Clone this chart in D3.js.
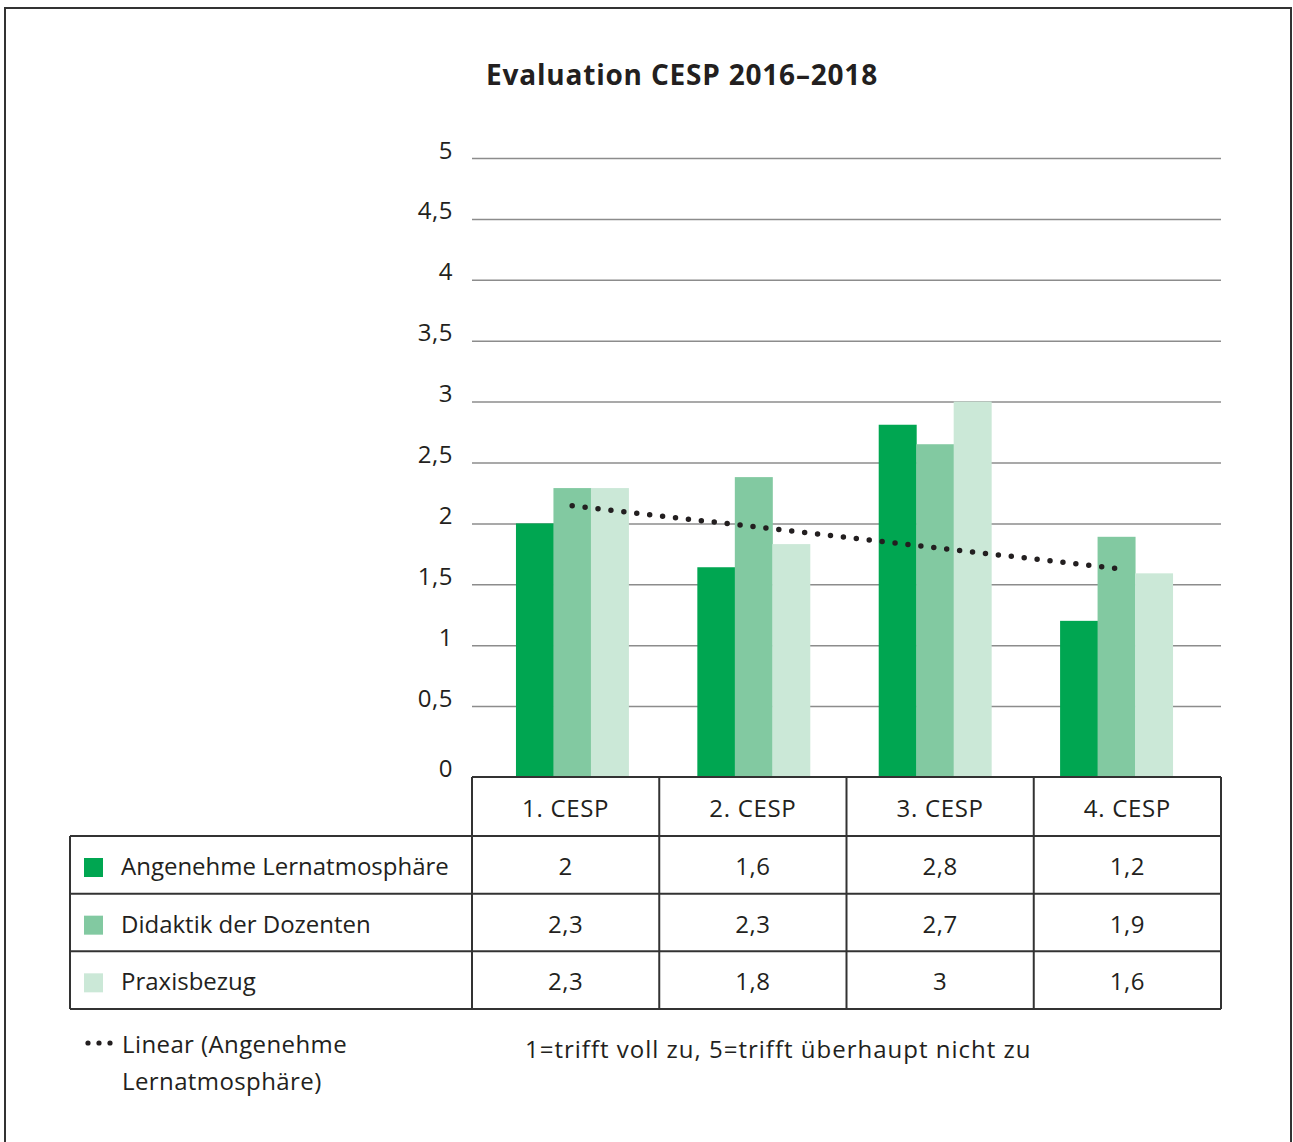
<!DOCTYPE html>
<html>
<head>
<meta charset="utf-8">
<script src="https://cdn.jsdelivr.net/npm/d3@7"></script>
<style>
  body { margin: 0; background: #fff; }
  text { font-family: "Open Sans", sans-serif; fill: #231f20; }
</style>
</head>
<body>
<div class="fig"></div>
<script>
// data
var categories = ["1. CESP", "2. CESP", "3. CESP", "4. CESP"];
var seriesNames = ["Angenehme Lernatmosphäre", "Didaktik der Dozenten", "Praxisbezug"];
var lernatmosphaere = [2.0, 1.64, 2.81, 1.2];
var didaktik = [2.29, 2.38, 2.65, 1.89];
var praxisbezug = [2.29, 1.83, 3.0, 1.59];
var lernLabels = ["2", "1,6", "2,8", "1,2"];
var didaktikLabels = ["2,3", "2,3", "2,7", "1,9"];
var praxisLabels = ["2,3", "1,8", "3", "1,6"];
var yTicks = [0, 0.5, 1, 1.5, 2, 2.5, 3, 3.5, 4, 4.5, 5];
var trendValues = [2.145, 1.627];   // linear trend, first and last CESP
var colors = ["#00a651", "#82c9a1", "#cbe8d7"];

var series = [lernatmosphaere, didaktik, praxisbezug];
var labels = [lernLabels, didaktikLabels, praxisLabels];

var W = 1293, H = 1142;
var plotL = 472, plotR = 1221, tableTop = 777;

const svg = d3.select(".fig")
  .append("svg")
  .attr("width", W)
  .attr("height", H);

// frame
svg.append("rect")
  .attr("x", 5).attr("y", 8)
  .attr("width", 1286).attr("height", 1150)
  .attr("fill", "none")
  .attr("stroke", "#333")
  .attr("stroke-width", 2);

// title
svg.append("text")
  .attr("x", 682).attr("y", 85)
  .attr("text-anchor", "middle")
  .style("font-size", "28px")
  .style("font-weight", "bold")
  .style("letter-spacing", "0.8px")
  .text("Evaluation CESP 2016–2018");

var y = d3.scaleLinear().domain([0, 5]).range([767, 158]);

// y axis + gridlines
var yAxis = svg.append("g")
  .attr("transform", "translate(" + plotL + ",0)")
  .call(d3.axisLeft(y)
    .tickValues(yTicks)
    .tickSize(-(plotR - plotL))
    .tickPadding(19)
    .tickFormat(function(d) { return String(d).replace(".", ","); }));
yAxis.select(".domain").remove();
yAxis.selectAll(".tick line")
  .attr("stroke", "#8c8c8c")
  .attr("stroke-width", 1.5);
yAxis.selectAll(".tick text")
  .attr("dy", "0")
  .style("font-size", "24px")
  .style("font-family", "'Open Sans', sans-serif")
  .style("letter-spacing", "0.5px")
  .attr("fill", "#231f20");
yAxis.selectAll(".tick").filter(function(d) { return d === 0; })
  .attr("transform", "translate(0," + tableTop + ")")
  .select("line").remove();

// bars
var xg = d3.scaleBand().domain(categories).range([481.5, 1207])
  .paddingInner(0.38).paddingOuter(0.19);
var x1 = d3.scaleBand().domain(d3.range(series.length)).range([0, xg.bandwidth()]);

var groups = svg.selectAll("g.grp")
  .data(categories)
  .enter().append("g")
  .attr("class", "grp")
  .attr("transform", function(c) { return "translate(" + xg(c) + ",0)"; });

groups.selectAll("rect")
  .data(function(c, i) { return series.map(function(s, k) { return { k: k, v: s[i] }; }); })
  .enter().append("rect")
  .attr("x", function(d) { return x1(d.k); })
  .attr("y", function(d) { return y(d.v); })
  .attr("width", x1.bandwidth() + 0.5)
  .attr("height", function(d) { return tableTop - y(d.v); })
  .attr("fill", function(d) { return colors[d.k]; });

// trend line
var trendPts = [
  [xg(categories[0]) + xg.bandwidth() / 2, y(trendValues[0])],
  [xg(categories[categories.length - 1]) + xg.bandwidth() / 2 + 3, y(trendValues[1])]
];
svg.append("path")
  .attr("d", d3.line()(trendPts))
  .attr("stroke", "#231f20")
  .attr("stroke-width", 5.5)
  .attr("stroke-linecap", "round")
  .attr("stroke-dasharray", "0 13")
  .attr("fill", "none");

// data table
var xc = d3.scaleBand().domain(categories).range([plotL, plotR]);
var rowY = d3.scaleBand().domain(seriesNames).range([836, 1009]);
var tableLeft = 70;
var lineColor = "#333";
var tbl = svg.append("g").attr("stroke", lineColor).attr("stroke-width", 2);

tbl.append("line").attr("x1", plotL).attr("x2", plotR).attr("y1", tableTop).attr("y2", tableTop);
seriesNames.concat(["end"]).forEach(function(s, i) {
  var yy = i < seriesNames.length ? rowY(s) : rowY.range()[1];
  tbl.append("line").attr("x1", tableLeft).attr("x2", plotR).attr("y1", yy).attr("y2", yy);
});
tbl.append("line").attr("x1", tableLeft).attr("x2", tableLeft).attr("y1", 836).attr("y2", 1009);
categories.forEach(function(c) {
  tbl.append("line").attr("x1", xc(c)).attr("x2", xc(c)).attr("y1", tableTop).attr("y2", 1009);
});
tbl.append("line").attr("x1", plotR).attr("x2", plotR).attr("y1", tableTop).attr("y2", 1009);

svg.selectAll("text.hdr")
  .data(categories)
  .enter().append("text")
  .attr("class", "hdr")
  .attr("x", function(c) { return xc(c) + xc.bandwidth() / 2; })
  .attr("y", 817)
  .attr("text-anchor", "middle")
  .style("font-size", "24px")
  .style("letter-spacing", "0.7px")
  .text(function(c) { return c; });

seriesNames.forEach(function(s, k) {
  var top = rowY(s);
  svg.append("rect")
    .attr("x", 84).attr("y", top + 22)
    .attr("width", 19).attr("height", 19)
    .attr("fill", colors[k]);
  svg.append("text")
    .attr("x", 121).attr("y", top + 39)
    .style("font-size", "24px")
    .text(s);
  svg.selectAll("text.v" + k)
    .data(labels[k])
    .enter().append("text")
    .attr("class", "v" + k)
    .attr("x", function(d, i) { return xc(categories[i]) + xc.bandwidth() / 2; })
    .attr("y", top + 39)
    .attr("text-anchor", "middle")
    .style("font-size", "24px")
    .style("letter-spacing", "0.5px")
    .text(function(d) { return d; });
});

// trend legend: three dots
svg.selectAll("circle.leg")
  .data([88, 99, 110])
  .enter().append("circle")
  .attr("class", "leg")
  .attr("cx", function(d) { return d; })
  .attr("cy", 1043)
  .attr("r", 2.6)
  .attr("fill", "#231f20");
svg.append("text")
  .attr("x", 122).attr("y", 1053)
  .style("font-size", "24px")
  .style("letter-spacing", "0.4px")
  .text("Linear (Angenehme");
svg.append("text")
  .attr("x", 122).attr("y", 1090)
  .style("font-size", "24px")
  .style("letter-spacing", "0.4px")
  .text("Lernatmosphäre)");

// scale note
svg.append("text")
  .attr("x", 525).attr("y", 1058)
  .style("font-size", "24px")
  .style("letter-spacing", "1px")
  .text("1=trifft voll zu, 5=trifft überhaupt nicht zu");
</script>
</body>
</html>
